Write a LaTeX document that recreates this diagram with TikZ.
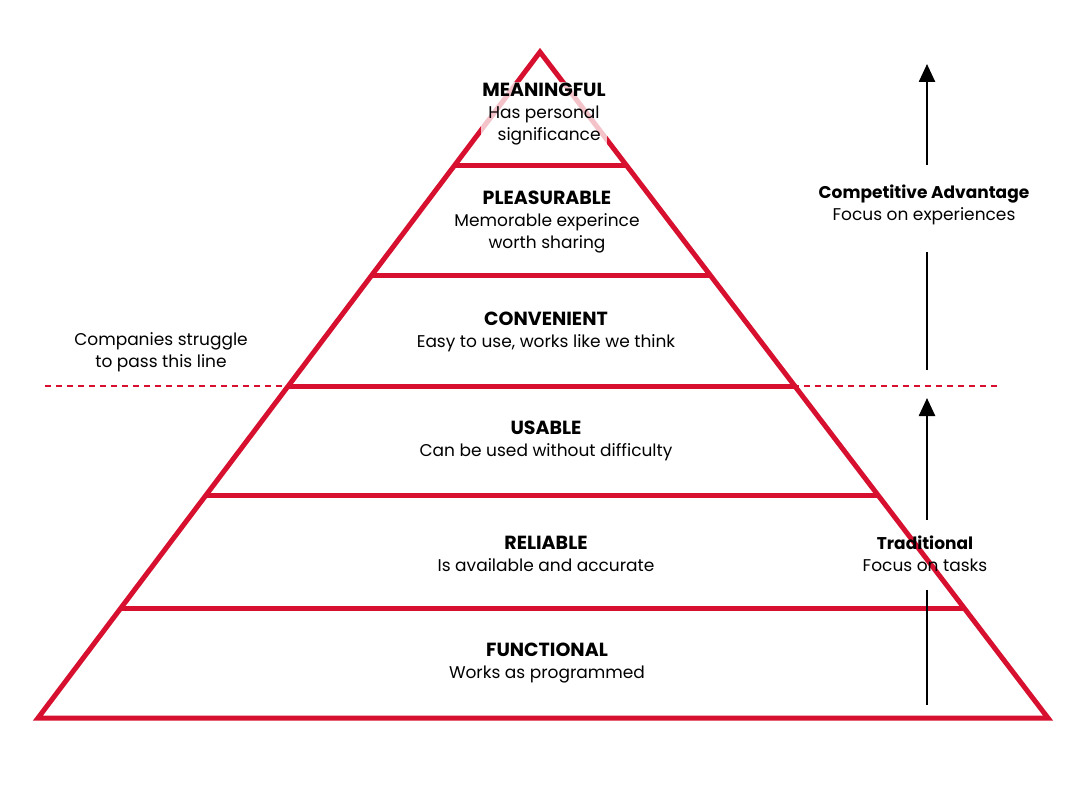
\documentclass[tikz,border=0pt]{standalone}
\usepackage{fontspec}
\setmainfont{Poppins}
\usetikzlibrary{arrows.meta}
\definecolor{pr}{HTML}{D6102E}
\newcommand\mytitle[1]{{\fontsize{19}{22}\selectfont\bfseries #1}}
\begin{document}
\begin{tikzpicture}[x=1pt,y=-1pt,
  edge/.style={draw=pr,line width=5pt,line join=miter},
  lbl/.style={align=center,font=\fontsize{17}{22}\selectfont,inner sep=1pt},
  fade/.style={lbl,fill=white,fill opacity=0.75,text opacity=1},
  arr/.style={line width=2.5pt,-{Triangle[length=18pt,width=16pt]}}]
\useasboundingbox (0,0) rectangle (1080,800);
\coordinate (apex) at (540,52);
\coordinate (bl) at (38,718);
\coordinate (br) at (1048,718);
\draw[edge] (apex) -- (bl) -- (br) -- cycle;
\foreach \y in {165,275,386,495,608}{
  \draw[edge] ({540-502/666*(\y-52)},\y) -- ({540+508/666*(\y-52)},\y);}
\draw[pr,line width=1.5pt,dash pattern=on 6pt off 5pt] (45,386) -- (1000,386);
\node[fade] (m) at (544,114) {\mytitle{MEANINGFUL}\\Has personal\\\hspace*{0.6em}significance};
\node[lbl] (p) at (547,222) {\mytitle{PLEASURABLE}\\Memorable experince\\worth sharing};
\node[lbl] (c) at (546,332) {\mytitle{CONVENIENT}\\Easy to use, works like we think};
\node[lbl] (u) at (546,441) {\mytitle{USABLE}\\Can be used without difficulty};
\node[lbl] (r) at (546,554) {\mytitle{RELIABLE}\\Is available and accurate};
\node[lbl] (f) at (547,663) {\mytitle{FUNCTIONAL}\\Works as programmed};
\node[lbl] (s) at (161,352) {Companies struggle\\to pass this line};
\node[lbl] (ca) at (924,205) {{\bfseries Competitive Advantage}\\Focus on experiences};
\node[lbl] (tr) at (925,554) {{\bfseries Traditional}\\Focus on tasks};
\coordinate (t1) at (927,64);
\coordinate (t2) at (927,398);
\draw[arr] (927,165) -- (t1);
\draw[line width=2.5pt] (927,252) -- (927,370);
\draw[arr] (927,520) -- (t2);
\draw[line width=2.5pt] (927,590) -- (927,705);
\end{tikzpicture}
\end{document}
